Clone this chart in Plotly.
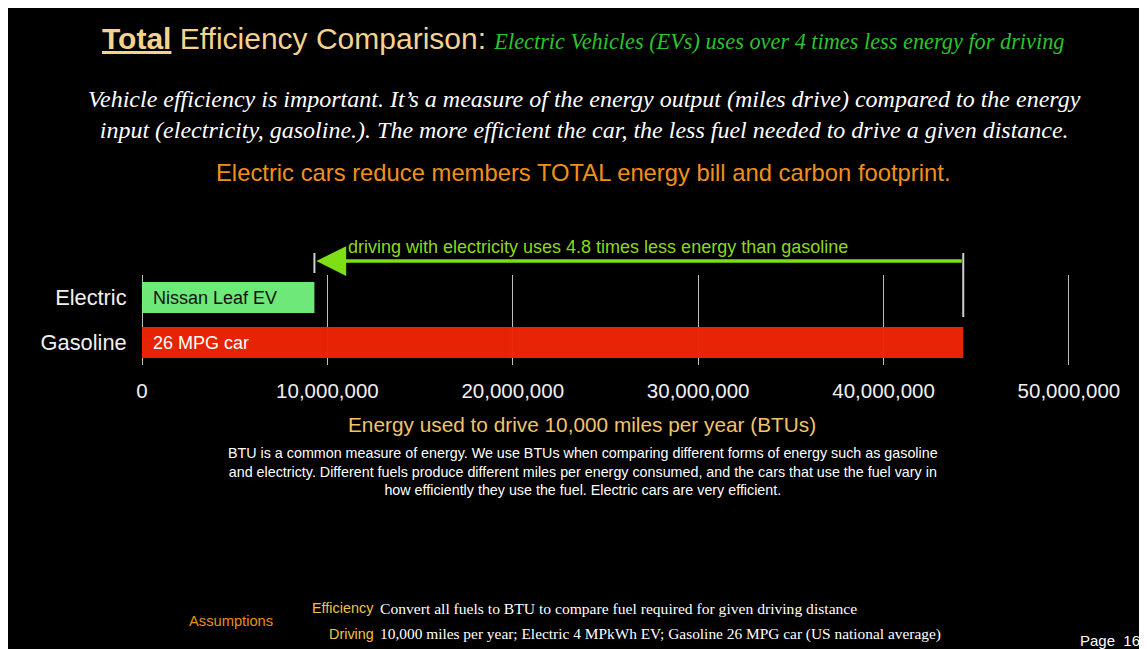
import plotly.graph_objects as go

# ---------------- data ----------------
categories = ["Electric", "Gasoline"]
btu_values = [9.3e6, 44.3e6]
bar_labels = ["Nissan Leaf EV", "26 MPG car"]
bar_colors = ["#72f07c", "#ee2606"]
bar_text_colors = ["#111111", "#ffffff"]
x_tick_values = [0, 10e6, 20e6, 30e6, 40e6, 50e6]
x_tick_labels = ["0", "10,000,000", "20,000,000", "30,000,000", "40,000,000", "50,000,000"]
x_max = 52e6

SANS = "Liberation Sans, Arial, Helvetica, sans-serif"
SERIF = "Liberation Serif, Times New Roman, serif"

# ---------------- geometry (screen px) ----------------
OFF = 8          # page body margin
FIG_W, FIG_H = 1147, 649
PLOT_L, PLOT_T, PLOT_B = 142, 275, 365   # screen coords
PX_PER_10M = 185.3
PLOT_W = x_max / 10e6 * PX_PER_10M
ml = PLOT_L - OFF
mt = PLOT_T - OFF
mb = FIG_H - (PLOT_B - OFF)
mr = FIG_W - ml - PLOT_W


def px(sx):
    return (sx - PLOT_L) / PLOT_W


def py(sy):
    return (PLOT_B - sy) / (PLOT_B - PLOT_T)


fig = go.Figure()
fig.add_trace(go.Bar(
    y=categories, x=btu_values, orientation="h",
    marker=dict(color=bar_colors, line=dict(width=0)),
    width=0.69, opacity=0.97, hoverinfo="skip",
))

ann = []


def text(sx, sy, s, size, color, family=SANS, xanchor="center", italic=False):
    ann.append(dict(
        x=px(sx), y=py(sy), xref="paper", yref="paper", xanchor=xanchor, yanchor="middle",
        text=s, showarrow=False, align="center" if xanchor == "center" else xanchor,
        font=dict(size=size, color=color, family=family, style="italic" if italic else "normal"),
    ))


# title
text(583, 38,
     '<u><b>Total</b></u> Efficiency Comparison: '
     '<span style="font-family:Liberation Serif, serif;font-style:italic;font-size:22.3px;color:#2bc42b">'
     'Electric Vehicles (EVs) uses over 4 times less energy for driving</span>',
     30, "#f7d28e")
# subtitle
text(584, 114,
     "Vehicle efficiency is important. It’s a measure of the energy output (miles drive) compared to the energy"
     "<br>input (electricity, gasoline.). The more efficient the car, the less fuel needed to drive a given distance.",
     24, "#ffffff", family=SERIF, italic=True)
text(583, 172, "Electric cars reduce members TOTAL energy bill and carbon footprint.", 23.8, "#f0901c")
# arrow label
text(598, 247, "driving with electricity uses 4.8 times less energy than gasoline", 18, "#8ed81c")
# axis title
text(582, 424, "Energy used to drive 10,000 miles per year (BTUs)", 20.8, "#f2c36a")
text(583, 471,
     "BTU is a common measure of energy. We use BTUs when comparing different forms of energy such as gasoline"
     "<br>and electricty. Different fuels produce different miles per energy consumed, and the cars that use the fuel vary in"
     "<br>how efficiently they use the fuel. Electric cars are very efficient.",
     14.3, "#ffffff")
# assumptions
text(187, 621, "Assumptions", 14.7, "#e98f1c", xanchor="left")
text(376, 608, "Efficiency", 14.4, "#f2c14a", xanchor="right")
text(376, 634, "Driving", 14.4, "#f2c14a", xanchor="right")
text(378, 608, "Convert all fuels to BTU to compare fuel required for given driving distance",
     15.6, "#ffffff", family=SERIF, xanchor="left")
text(378, 634, "10,000 miles per year; Electric 4 MPkWh EV; Gasoline 26 MPG car (US national average)",
     15.4, "#ffffff", family=SERIF, xanchor="left")
text(1078, 640, "Page  16", 15, "#ffffff", xanchor="left")

# bar labels
for cat, lab, col in zip(categories, bar_labels, bar_text_colors):
    ann.append(dict(x=0, y=cat, xref="x", yref="y", xanchor="left", yanchor="middle",
                    xshift=9, text=lab, showarrow=False,
                    font=dict(size=18, color=col, family=SANS)))

# arrow
ann.append(dict(x=btu_values[0], y=py(261), xref="x", yref="paper",
                ax=btu_values[1], axref="x", ay=0, ayref="pixel",
                text="", showarrow=True, arrowhead=2, arrowsize=1.7, arrowwidth=3.5,
                arrowcolor="#7ee014", standoff=2))

shapes = [
    dict(type="line", xref="x", yref="paper", x0=btu_values[0], x1=btu_values[0],
         y0=py(273), y1=py(253), line=dict(color="#cfcfcf", width=2)),
    dict(type="line", xref="x", yref="paper", x0=btu_values[1], x1=btu_values[1],
         y0=py(317), y1=py(253), line=dict(color="#cfcfcf", width=2)),
]

fig.update_layout(
    width=FIG_W, height=FIG_H,
    margin=dict(l=ml, r=mr, t=mt, b=mb, pad=0),
    paper_bgcolor="#000000", plot_bgcolor="#000000",
    showlegend=False, annotations=ann, shapes=shapes,
    font=dict(family=SANS, color="#ffffff"),
    xaxis=dict(range=[0, x_max], tickvals=x_tick_values, ticktext=x_tick_labels,
               showgrid=True, gridcolor="#bdbdbd", gridwidth=1,
               zeroline=True, zerolinecolor="#bdbdbd", zerolinewidth=1,
               showline=False, ticks="outside", ticklen=7, tickcolor="rgba(0,0,0,0)",
               tickfont=dict(size=20.5, color="#f0f0f0", family=SANS), fixedrange=True),
    yaxis=dict(autorange="reversed", showgrid=False, zeroline=False, showline=False,
               ticks="outside", ticklen=10, tickcolor="rgba(0,0,0,0)",
               tickfont=dict(size=21.8, color="#f0f0f0", family=SANS), fixedrange=True),
)

fig.write_html(
    "out.html",
    post_script="document.documentElement.style.overflow='hidden';document.body.style.overflow='hidden';",
)
